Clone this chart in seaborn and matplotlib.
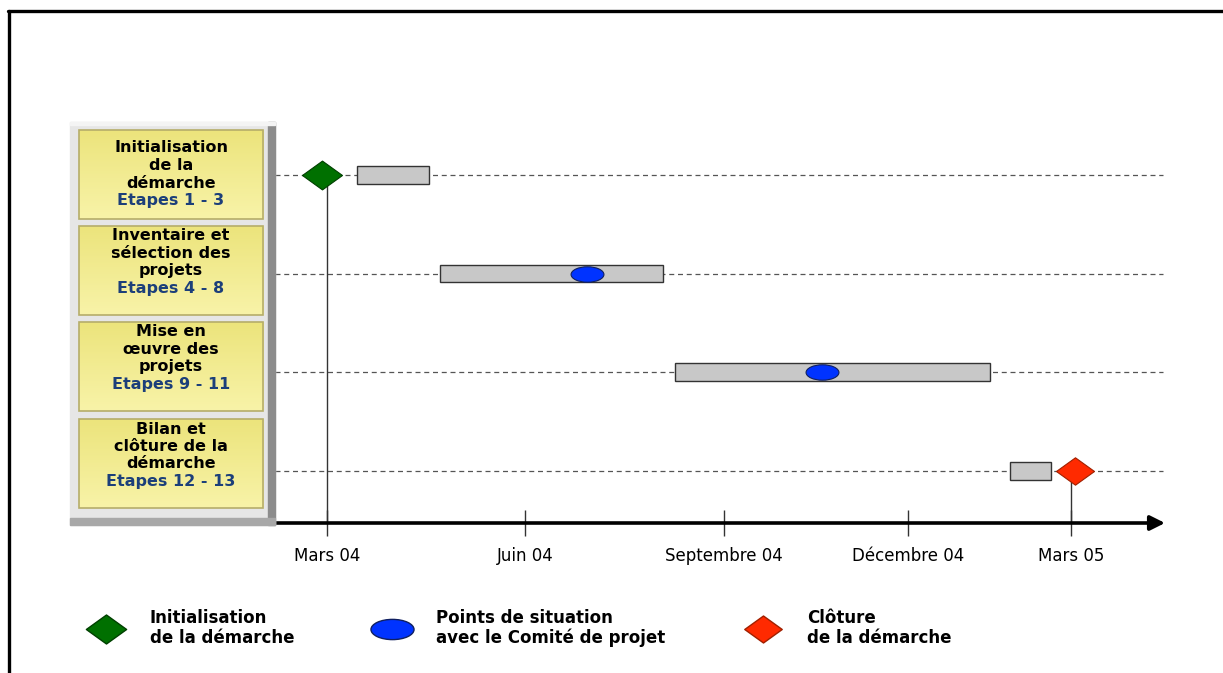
import numpy as np
import matplotlib
matplotlib.use("Agg")
import matplotlib.pyplot as plt
import seaborn as sns
from matplotlib.path import Path
from matplotlib.lines import Line2D
from matplotlib.patches import Rectangle

# --- données (mois comptés depuis Mars 04) ---
phases = ["Initialisation\nde la\ndémarche", "Inventaire et\nsélection des\nprojets",
          "Mise en\nœuvre des\nprojets", "Bilan et\nclôture de la\ndémarche"]
etapes = ["Etapes 1 - 3", "Etapes 4 - 8", "Etapes 9 - 11", "Etapes 12 - 13"]
debut = [0.48, 1.82, 5.61, 11.02]
fin = [1.65, 5.42, 10.69, 11.68]
points_situation = [4.19, 7.98]          # rangées 1 et 2
lignes_situation = [1, 2]
init_mois, init_ligne = [-0.08], [0]
cloture_mois, cloture_ligne = [12.06], [3]
ticks_mois = [0, 3.2, 6.4, 9.37, 12]
ticks_labels = ["Mars 04", "Juin 04", "Septembre 04", "Décembre 04", "Mars 05"]
legende = ["Initialisation\nde la démarche", "Points de situation\navec le Comité de projet",
           "Clôture\nde la démarche"]

sns.set_style("white")
plt.rcParams["font.family"] = ["DejaVu Sans"]

W, H = 1223, 673
fig = plt.figure(figsize=(W / 100, H / 100), dpi=100)

# marqueurs
losange = Path([(-1, 0), (0, 0.72), (1, 0), (0, -0.72), (-1, 0)],
               [Path.MOVETO, Path.LINETO, Path.LINETO, Path.LINETO, Path.CLOSEPOLY])
cercle = Path.unit_circle()
ellipse = Path(cercle.vertices * np.array([1, 0.47]), cercle.codes)

vert, bleu, rouge = "#007000", "#0033ff", "#ff2a00"

# --- axe du planning ---
ax = fig.add_axes([265 / W, 150 / H, 900 / W, 393 / H])
ax.set_xlim(-1.0, 13.516)
ax.set_ylim(3.53, -0.456)
for s in ax.spines.values():
    s.set_visible(False)

for i in range(len(phases)):
    ax.axhline(i, xmin=0.011, xmax=0.998, color="#555555", lw=0.9,
               dashes=(4, 3), zorder=1)

ax.barh(range(len(phases)), np.array(fin) - np.array(debut), left=debut, height=0.18,
        color="#c8c8c8", edgecolor="#333333", linewidth=1, zorder=2)

ax.plot([ticks_mois[0], ticks_mois[0]], [init_ligne[0], 3.53], color="#333333", lw=1, zorder=1)
ax.plot([ticks_mois[-1], ticks_mois[-1]], [cloture_ligne[0], 3.53], color="#333333", lw=1, zorder=1)

sns.scatterplot(x=points_situation, y=lignes_situation, marker=ellipse, s=560,
                color=bleu, edgecolor="#102060", linewidth=0.8, ax=ax, zorder=4)
sns.scatterplot(x=init_mois, y=init_ligne, marker=losange, s=830,
                color=vert, edgecolor="#004000", linewidth=0.8, ax=ax, zorder=4)
sns.scatterplot(x=cloture_mois, y=cloture_ligne, marker=losange, s=750,
                color=rouge, edgecolor="#a02000", linewidth=0.8, ax=ax, zorder=4)

ax.set_yticks([])
ax.set_xticks(ticks_mois)
ax.set_xticklabels(ticks_labels, fontsize=12)
ax.tick_params(axis="x", direction="inout", length=19, width=1, color="#333333",
               labelcolor="black", pad=8, bottom=True)
ax.annotate("", xy=(1.0, 0), xytext=(0, 0), xycoords="axes fraction",
            arrowprops=dict(arrowstyle="-|>", lw=2.6, mutation_scale=22, color="black",
                            shrinkA=0, shrinkB=0), annotation_clip=False)

# --- panneau des phases ---
axp = fig.add_axes([60 / W, 1 - 530 / H, 220 / W, 415 / H])
axp.set_xlim(60, 280)
axp.set_ylim(530, 115)
axp.axis("off")
axp.add_patch(Rectangle((70, 122), 205, 403, color="#e6e6e6", zorder=0))
axp.add_patch(Rectangle((268, 122), 7, 403, color="#8c8c8c", zorder=1))
axp.add_patch(Rectangle((70, 518), 205, 7, color="#a8a8a8", zorder=1))
axp.add_patch(Rectangle((70, 122), 205, 3, color="#f4f4f4", zorder=1))

hauts = [130, 226, 322, 419]
premiere = [148, 236, 332, 429]
grad = np.linspace(0, 1, 50).reshape(-1, 1)
cmap_jaune = matplotlib.colors.LinearSegmentedColormap.from_list("j", ["#ece47c", "#f8f3a8"])
for i, (t, e) in enumerate(zip(phases, etapes)):
    y0 = hauts[i]
    axp.imshow(grad, extent=(79, 263, y0 + 89, y0), cmap=cmap_jaune, aspect="auto", zorder=2)
    axp.add_patch(Rectangle((79, y0), 184, 89, fill=False, edgecolor="#b5ad6a", lw=1.2, zorder=3))
    for k, ligne in enumerate(t.split("\n")):
        axp.text(171, premiere[i] + k * 17.5, ligne, ha="center", va="center",
                 fontsize=11.5, fontweight="bold", color="black", zorder=4)
    axp.text(171, premiere[i] + 3 * 17.5, e, ha="center", va="center",
             fontsize=11.5, fontweight="bold", color="#1c3f7a", zorder=4)

# --- légende ---
poignees = [
    Line2D([], [], marker=losange, markersize=29, linestyle="none",
           markerfacecolor=vert, markeredgecolor="#004000"),
    Line2D([], [], marker=ellipse, markersize=31, linestyle="none",
           markerfacecolor=bleu, markeredgecolor="#102060"),
    Line2D([], [], marker=losange, markersize=27, linestyle="none",
           markerfacecolor=rouge, markeredgecolor="#a02000"),
]
leg = fig.legend(poignees, legende, ncol=3, loc="center left",
                 bbox_to_anchor=(58 / W, 1 - 628 / H), frameon=False,
                 prop={"weight": "bold", "size": 12}, handlelength=4.0,
                 handletextpad=0.6, columnspacing=3.9)
for txt in leg.get_texts():
    txt.set_linespacing(1.15)
    txt.set_color("black")

# cadre
fig.add_artist(Line2D([8 / W, 1], [1 - 11 / H, 1 - 11 / H], color="black", lw=2.4,
                      transform=fig.transFigure))
fig.add_artist(Line2D([9 / W, 9 / W], [0, 1 - 11 / H], color="black", lw=2.4,
                      transform=fig.transFigure))

fig.savefig("out.png", dpi=100)
